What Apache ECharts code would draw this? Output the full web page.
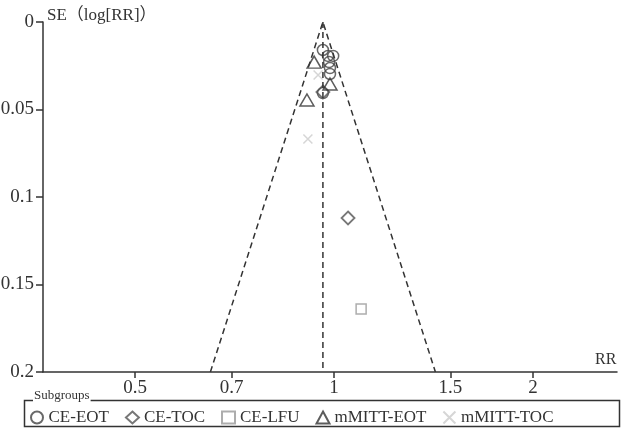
<!DOCTYPE html>
<html><head><meta charset="utf-8">
<script src="https://cdn.jsdelivr.net/npm/echarts@6/dist/echarts.min.js"></script>
<style>html,body{margin:0;padding:0;background:#fff}#c{width:621px;height:435px}</style>
</head><body><div id="c"></div>
<script>
// ---- data ----
const xTickLabels = [0.5, 0.7, 1, 1.5, 2];
const pooledRR = 0.962;
const seMax = 0.2;
const ceEOT_RR = [0.962, 0.979, 0.997, 0.983, 0.986, 0.986, 0.962];
const ceEOT_SE = [0.016, 0.0194, 0.0194, 0.0229, 0.0263, 0.0297, 0.0406];
const ceTOC_RR = [0.962, 1.050];
const ceTOC_SE = [0.040, 0.112];
const ceLFU_RR = [1.099];
const ceLFU_SE = [0.164];
const mEOT_RR = [0.933, 0.986, 0.910];
const mEOT_SE = [0.0229, 0.0354, 0.0446];
const mTOC_RR = [0.946, 0.913];
const mTOC_SE = [0.0303, 0.0669];

const pts = (rr, se) => rr.map((r, i) => [Math.log(r), se[i]]);
const lc = Math.log(pooledRR);
const font = '"Liberation Serif", "Noto Sans CJK SC", "DejaVu Serif", serif';
const xPath = 'path://M0,0L10,10M10,0L0,10';

const chart = echarts.init(document.getElementById('c'), null, {renderer: 'canvas'});
chart.setOption({
  backgroundColor: '#fff',
  animation: false,
  grid: {left: 43, right: 4, top: 22, bottom: 63, outerBoundsMode: 'none', containLabel: false},
  xAxis: {
    type: 'value',
    min: Math.log(0.3628), max: Math.log(2.68),
    name: 'RR', nameLocation: 'end', nameGap: -22,
    nameTextStyle: {fontFamily: font, fontSize: 16, color: '#333', align: 'left', verticalAlign: 'bottom', padding: [0, 0, 4, 0]},
    axisLine: {onZero: false, lineStyle: {color: '#333', width: 1.5}},
    axisTick: {show: true, length: 6, customValues: xTickLabels.map(Math.log), lineStyle: {color: '#333', width: 1.5}},
    axisLabel: {customValues: xTickLabels.map(Math.log), formatter: v => String(+Math.exp(v).toFixed(2)),
      fontFamily: font, fontSize: 19, color: '#333', margin: 7},
    splitLine: {show: false}
  },
  yAxis: {
    type: 'value', inverse: true, min: 0, max: seMax, interval: 0.05,
    name: 'SE（log[RR]）', nameLocation: 'start', nameGap: 0,
    nameTextStyle: {fontFamily: font, fontSize: 17, color: '#333', align: 'left', verticalAlign: 'bottom', padding: [0, 0, -2, 4]},
    axisLine: {onZero: false, lineStyle: {color: '#333', width: 1.5}},
    axisTick: {show: true, length: 7, lineStyle: {color: '#333', width: 1.5}},
    axisLabel: {fontFamily: font, fontSize: 19, color: '#333', margin: 9},
    splitLine: {show: false}
  },
  legend: {
    left: 25, top: 404, itemGap: 16, itemWidth: 13, itemHeight: 12,
    textStyle: {fontFamily: font, fontSize: 17, color: '#333', padding: [4, 0, 0, 0]},
    data: ['CE-EOT', 'CE-TOC', 'CE-LFU', 'mMITT-EOT', 'mMITT-TOC']
  },
  graphic: [
    {type: 'rect', left: 22, top: 398, shape: {width: 595, height: 26}, style: {fill: 'none', stroke: '#333', lineWidth: 1.5}, z: 1},
    {type: 'text', left: 33, top: 389, style: {text: 'Subgroups', font: '13px ' + font, fill: '#333', backgroundColor: '#fff', padding: [0, 1]}, z: 2}
  ],
  series: [
    {type: 'line', silent: true, symbol: 'none', data: [[lc, 0], [lc, seMax]], lineStyle: {color: '#333', width: 1.5, type: [6, 4]}},
    {type: 'line', silent: true, symbol: 'none', data: [[lc - 1.96 * seMax, seMax], [lc, 0], [lc + 1.96 * seMax, seMax]], lineStyle: {color: '#333', width: 1.5, type: [6, 4]}},
    {name: 'CE-EOT', type: 'scatter', symbol: 'circle', symbolSize: 11, data: pts(ceEOT_RR, ceEOT_SE),
      itemStyle: {color: 'rgba(255,255,255,0)', borderColor: '#444', borderWidth: 1.5}},
    {name: 'CE-TOC', type: 'scatter', symbol: 'diamond', symbolSize: 13, data: pts(ceTOC_RR, ceTOC_SE),
      itemStyle: {color: 'rgba(255,255,255,0)', borderColor: '#555', borderWidth: 1.8}},
    {name: 'CE-LFU', type: 'scatter', symbol: 'rect', symbolSize: 10, data: pts(ceLFU_RR, ceLFU_SE),
      itemStyle: {color: 'rgba(255,255,255,0)', borderColor: '#999', borderWidth: 1.5}},
    {name: 'mMITT-EOT', type: 'scatter', symbol: 'triangle', symbolSize: [14, 12], data: pts(mEOT_RR, mEOT_SE),
      itemStyle: {color: 'rgba(255,255,255,0)', borderColor: '#333', borderWidth: 1.5}},
    {name: 'mMITT-TOC', type: 'scatter', symbol: xPath, symbolSize: 9, data: pts(mTOC_RR, mTOC_SE),
      itemStyle: {color: 'rgba(255,255,255,0)', borderColor: '#ccc', borderWidth: 1.5}}
  ]
});
</script></body></html>
